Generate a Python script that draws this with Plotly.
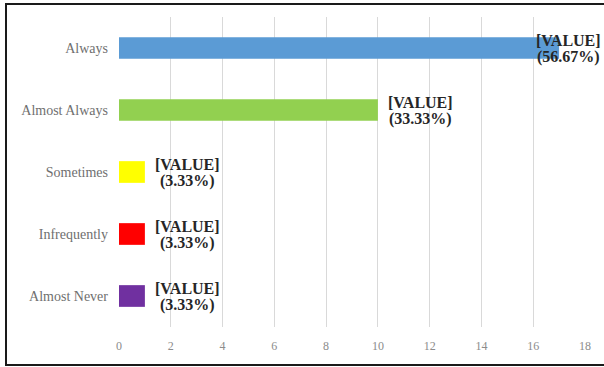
import plotly.graph_objects as go

# Survey responses (counts per frequency category)
categories = ["Always", "Almost Always", "Sometimes", "Infrequently", "Almost Never"]
counts = [17, 10, 1, 1, 1]
bar_colors = ["#5B9BD5", "#92D050", "#FFFF00", "#FF0000", "#7030A0"]
x_ticks = [0, 2, 4, 6, 8, 10, 12, 14, 16, 18]

total = sum(counts)
W, H = 604, 367
ml, mr, mt, mb = 119, 19, 17, 40
pw, ph = W - ml - mr, H - mt - mb
SERIF = "Times New Roman, Liberation Serif, serif"

fig = go.Figure()
fig.add_trace(go.Bar(
    x=counts,
    y=categories,
    orientation="h",
    marker=dict(color=bar_colors, line=dict(width=0)),
    width=0.35,
    hoverinfo="x+y",
))

# Data labels: "[VALUE]" with share of total underneath, two tight lines
annotations = []
x_max = x_ticks[-1]
label_font = dict(family=SERIF, size=16, color="#262626")
for cat, v in zip(categories, counts):
    near_edge = v > x_max - 3
    xs = 9 if near_edge else 43
    lines = ["<b>[VALUE]</b>", "<b>({:.2f}%)</b>".format(v / total * 100)]
    for text, ys in zip(lines, (8, -9)):
        annotations.append(dict(
            x=v, y=cat, xref="x", yref="y",
            text=text, showarrow=False,
            xanchor="center", yanchor="middle",
            xshift=xs, yshift=ys,
            font=label_font,
        ))

fig.update_layout(
    width=W, height=H,
    margin=dict(l=ml, r=mr, t=mt, b=mb),
    paper_bgcolor="white",
    plot_bgcolor="white",
    showlegend=False,
    annotations=annotations,
    xaxis=dict(
        range=[0, x_max],
        tickvals=x_ticks,
        showgrid=True,
        gridcolor="#D9D9D9",
        gridwidth=1,
        zeroline=False,
        showline=False,
        ticks="",
        tickfont=dict(family=SERIF, size=12, color="#8c8c8c"),
        ticklabelstandoff=10,
    ),
    yaxis=dict(
        categoryorder="array",
        categoryarray=categories[::-1],
        showgrid=False,
        zeroline=False,
        showline=False,
        ticks="",
        ticklabelstandoff=10,
        tickfont=dict(family=SERIF, size=14, color="#6f6f6f"),
    ),
    shapes=[dict(
        type="rect", xref="paper", yref="paper",
        x0=(6 - ml) / pw, x1=(640 - ml) / pw,
        y0=(mt + ph - 365) / ph, y1=(mt + ph - 4) / ph,
        line=dict(color="#1a1a1a", width=2),
        fillcolor="rgba(0,0,0,0)",
        layer="below",
    )],
)

fig.write_html("out.html")
